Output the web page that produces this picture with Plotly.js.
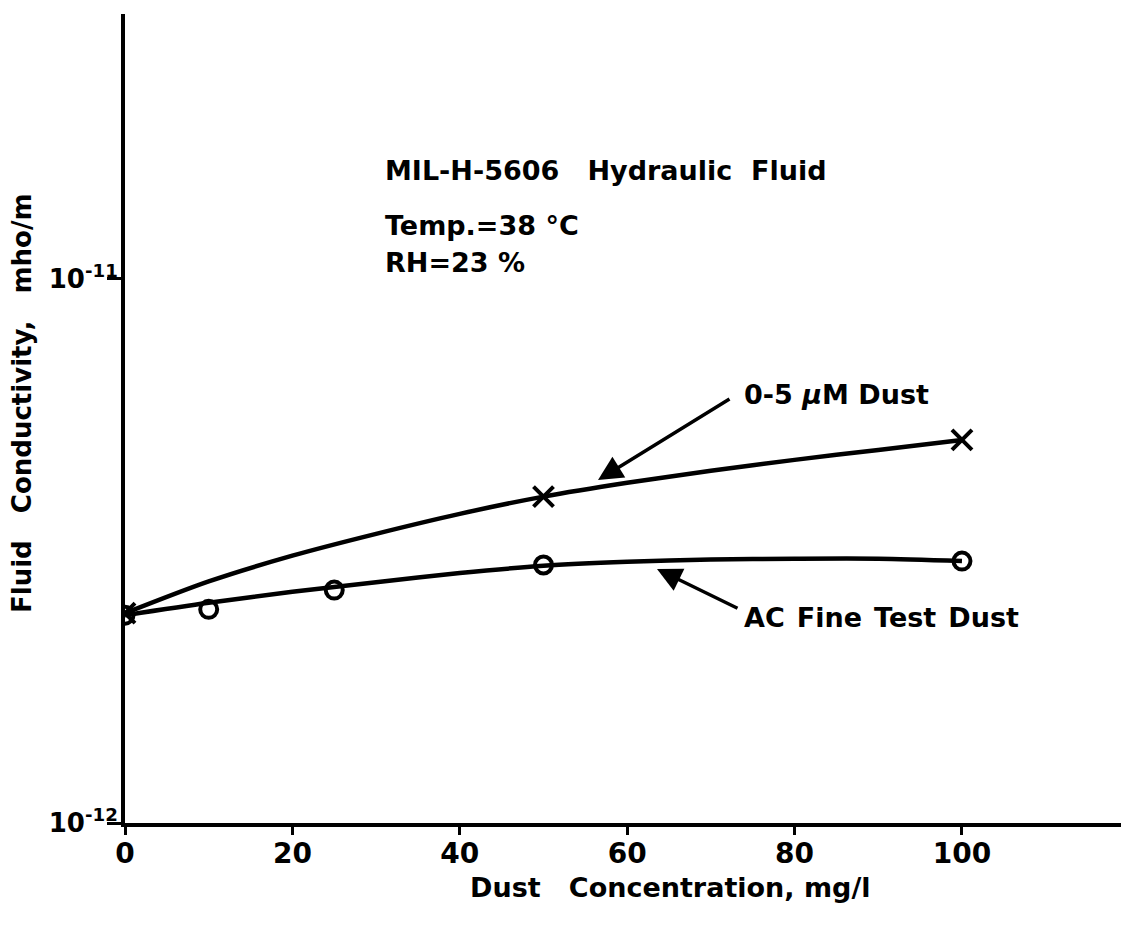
<!DOCTYPE html>
<html>
<head>
<meta charset="utf-8">
<script src="https://cdn.plot.ly/plotly-3.0.1.min.js"></script>
<style>
  html, body { margin: 0; padding: 0; background: #fff; }
  #chart { width: 1124px; height: 926px; }
</style>
</head>
<body>
<div id="chart"></div>
<script>
// Dust concentration (mg/l) at which the smoothed curves are traced
const fitConc = [0, 10, 20, 30, 40, 50, 60, 70, 80, 90, 100];
// Smoothed curve through the 0-5 µM dust measurements (mho/m)
const fitDust05 = [2.43e-12, 2.78e-12, 3.10e-12, 3.40e-12, 3.70e-12, 3.98e-12, 4.22e-12, 4.44e-12, 4.65e-12, 4.85e-12, 5.06e-12];
// Smoothed curve through the AC fine test dust measurements (mho/m)
const fitACFine = [2.41e-12, 2.54e-12, 2.66e-12, 2.77e-12, 2.88e-12, 2.97e-12, 3.02e-12, 3.05e-12, 3.06e-12, 3.06e-12, 3.03e-12];

// Measured points, 0-5 µM dust
const concDust05 = [0, 50, 100];
const dust05 = [2.43e-12, 3.98e-12, 5.06e-12];
// Measured points, AC fine test dust
const concACFine = [0, 10, 25, 50, 100];
const acFine = [2.41e-12, 2.47e-12, 2.68e-12, 2.98e-12, 3.03e-12];

// Axis ticks
const xTicks = [0, 20, 40, 60, 80, 100];
const yTicks = [1e-12, 1e-11];
const yTickText = ['10<sup>-12</sup>', '10<sup>-11</sup>'];

const FONT = 'DejaVu Sans, Arial, sans-serif';
const INK = '#000';
const NB = '\u00a0';
const gap = n => NB.repeat(n);
const wordGap = NB + '\u200a';

const traces = [
  { x: fitConc, y: fitDust05, mode: 'lines', line: { color: INK, width: 4.5, shape: 'spline', smoothing: 0.8 }, hoverinfo: 'skip' },
  { x: fitConc, y: fitACFine, mode: 'lines', line: { color: INK, width: 4.5, shape: 'spline', smoothing: 0.8 }, hoverinfo: 'skip' },
  { x: concDust05, y: dust05, mode: 'markers',
    marker: { symbol: 'x-thin-open', size: 20, color: INK, line: { color: INK, width: 4 } } },
  { x: concACFine, y: acFine, mode: 'markers',
    marker: { symbol: 'circle-open', size: 17, color: INK, line: { color: INK, width: 4 } } }
];

const L = 125, R = 3, T = 14, B = 103;
const plotW = 1124 - L - R, plotH = 926 - T - B;
const px = v => (v - L) / plotW;          // page x -> paper x
const py = v => (926 - B - v) / plotH;    // page y -> paper y

const textFont = { family: FONT, size: 27, color: INK, weight: 'bold' };

const layout = {
  width: 1124, height: 926,
  margin: { l: L, r: R, t: T, b: B },
  paper_bgcolor: '#fff', plot_bgcolor: '#fff',
  showlegend: false,
  font: { family: FONT, color: INK },
  xaxis: {
    range: [0, 119], tickvals: xTicks, ticks: 'outside', ticklen: 8, tickwidth: 3, tickcolor: INK,
    ticklabelstandoff: -6,
    showline: true, linewidth: 4, linecolor: INK, showgrid: false, zeroline: false,
    tickfont: { family: FONT, size: 28, color: INK, weight: 'bold' }
  },
  yaxis: {
    type: 'log', range: [-12, -10.513], tickvals: yTicks, ticktext: yTickText,
    ticks: 'outside', ticklen: 14, tickwidth: 3, tickcolor: INK, ticklabelstandoff: -16,
    showline: true, linewidth: 4, linecolor: INK, showgrid: false, zeroline: false,
    tickfont: { family: FONT, size: 26, color: INK, weight: 'bold' }
  },
  annotations: [
    // axis titles
    { xref: 'paper', yref: 'paper', x: px(670), y: py(887), xanchor: 'center', yanchor: 'middle', showarrow: false,
      text: 'Dust' + gap(3) + 'Concentration, mg/l', font: { family: FONT, size: 27, color: INK, weight: 'bold' } },
    { xref: 'paper', yref: 'paper', x: px(22), y: py(403), xanchor: 'center', yanchor: 'middle', showarrow: false,
      textangle: -90,
      text: 'Fluid' + gap(3) + 'Conductivity,' + gap(3) + 'mho/m', font: { family: FONT, size: 26, color: INK, weight: 'bold' } },
    // test conditions
    { xref: 'paper', yref: 'paper', x: px(383), y: py(170), xanchor: 'left', yanchor: 'middle', showarrow: false,
      text: 'MIL-H-5606' + gap(3) + 'Hydraulic' + gap(2) + 'Fluid', font: textFont },
    { xref: 'paper', yref: 'paper', x: px(383), y: py(226), xanchor: 'left', yanchor: 'middle', showarrow: false,
      text: 'Temp.=38 °C', font: textFont },
    { xref: 'paper', yref: 'paper', x: px(383), y: py(262), xanchor: 'left', yanchor: 'middle', showarrow: false,
      text: 'RH=23 %', font: textFont },
    // series labels
    { xref: 'paper', yref: 'paper', x: px(742), y: py(394), xanchor: 'left', yanchor: 'middle', showarrow: false,
      text: '0-5 <i>μ</i>M Dust', font: textFont },
    { xref: 'paper', yref: 'paper', x: px(742), y: py(617), xanchor: 'left', yanchor: 'middle', showarrow: false,
      text: 'AC' + wordGap + 'Fine' + wordGap + 'Test' + wordGap + 'Dust', font: textFont },
    // pointer arrows
    { xref: 'paper', yref: 'paper', x: px(598), y: py(480), text: '', showarrow: true,
      ax: 133, ay: -82, arrowhead: 2, arrowsize: 1.4, arrowwidth: 3.5, arrowcolor: INK },
    { xref: 'paper', yref: 'paper', x: px(657), y: py(569), text: '', showarrow: true,
      ax: 82, ay: 40, arrowhead: 2, arrowsize: 1.4, arrowwidth: 3.5, arrowcolor: INK }
  ]
};

Plotly.newPlot('chart', traces, layout, { staticPlot: true, displayModeBar: false });
</script>
</body>
</html>
